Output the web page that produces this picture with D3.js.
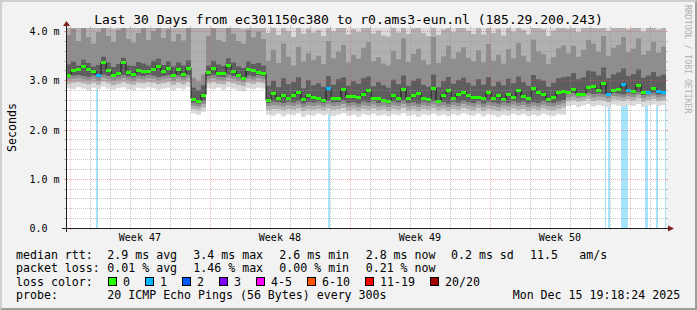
<!DOCTYPE html>
<html><head><meta charset="utf-8">
<script src="https://cdn.jsdelivr.net/npm/d3@7/dist/d3.min.js"></script>
<style>
html,body{margin:0;padding:0;background:#f2f2f2;}
svg{display:block;}
text{font-family:"DejaVu Sans Mono",monospace;fill:#000;}
</style>
</head><body>
<svg id="chart" width="697" height="310"></svg>
<script>
// ---------------- DATA ----------------
const titleText = "Last 30 Days from ec301150c380 to r0.ams3-eun.nl (185.29.200.243)";
const startTime = "2025-11-15T19:18:24Z";
const endTime   = "2025-12-15T19:18:24Z";
const stepHours = 6;            // one sample every 6 hours
const lossSampleMinutes = 72;   // width of one loss sample

// median RTT (ms) per sample
const median = [
3.11,3.20,3.22,3.30,3.23,3.18,3.11,3.38,3.20,3.10,
3.14,3.38,3.16,3.12,3.21,3.18,3.19,3.24,3.30,3.18,
3.26,3.11,3.24,3.13,3.25,2.62,2.57,2.70,3.16,3.25,
3.14,3.15,3.31,3.18,3.11,3.04,3.22,3.20,3.17,3.15,
2.60,2.74,2.64,2.70,2.64,2.70,2.77,2.62,2.70,2.66,
2.64,2.60,2.85,2.65,2.65,2.82,2.68,2.68,2.66,2.72,
2.80,2.65,2.64,2.61,2.58,2.70,2.64,2.82,2.65,2.70,
2.74,2.64,2.62,2.85,2.58,2.70,2.80,2.64,2.72,2.76,
2.70,2.66,2.67,2.64,2.77,2.64,2.70,2.63,2.72,2.66,
2.80,2.69,2.64,2.84,2.76,2.72,2.62,2.66,2.76,2.78,
2.77,2.82,2.72,2.73,2.86,2.88,2.80,2.95,2.72,2.80,
2.82,2.93,2.80,2.79,2.91,2.76,2.77,2.84,2.78,2.77];

// pings lost per sample (colours the median)
const medianLoss = [
0,0,0,0,0,0,1,0,0,0, 0,0,0,0,0,0,0,0,0,0,
0,0,0,0,0,0,0,0,0,0, 0,0,0,0,0,0,0,0,0,0,
0,0,0,0,0,0,0,0,0,0, 0,0,1,0,0,0,0,0,0,0,
0,0,0,0,0,0,0,0,0,0, 0,0,0,0,0,0,0,0,0,0,
0,0,0,0,0,0,0,0,0,0, 0,0,0,0,0,0,0,0,0,0,
0,0,0,0,0,0,0,0,1,0, 0,1,1,0,0,0,1,0,1,1];

// sorted ping RTTs (ms): smoke boundaries
const pingMin = [
2.84,2.82,2.86,2.83,2.80,2.85,2.82,2.87,2.83,2.81,
2.84,2.86,2.82,2.80,2.85,2.83,2.86,2.84,2.81,2.83,
2.85,2.80,2.84,2.82,2.86,2.33,2.30,2.36,2.84,2.82,
2.85,2.81,2.86,2.83,2.80,2.78,2.84,2.82,2.85,2.83,
2.30,2.28,2.32,2.27,2.31,2.29,2.33,2.26,2.30,2.28,
2.32,2.29,2.31,2.27,2.30,2.33,2.28,2.30,2.26,2.31,
2.29,2.32,2.28,2.30,2.27,2.31,2.29,2.33,2.28,2.30,
2.26,2.31,2.29,2.32,2.28,2.30,2.27,2.31,2.29,2.33,
2.30,2.28,2.32,2.27,2.31,2.29,2.26,2.30,2.28,2.32,
2.29,2.31,2.27,2.30,2.28,2.32,2.29,2.27,2.31,2.30,
2.48,2.50,2.46,2.49,2.52,2.47,2.50,2.48,2.45,2.51,
2.49,2.47,2.50,2.48,2.52,2.46,2.49,2.51,2.47,2.50];
const ping3 = [
2.93,2.95,2.96,2.94,2.92,2.95,2.91,2.97,2.94,2.90,
2.93,2.96,2.93,2.91,2.95,2.94,2.96,2.95,2.92,2.94,
2.96,2.91,2.95,2.92,2.96,2.42,2.40,2.45,2.94,2.96,
2.93,2.92,2.97,2.94,2.91,2.88,2.95,2.93,2.96,2.94,
2.40,2.42,2.41,2.39,2.42,2.40,2.43,2.38,2.41,2.40,
2.42,2.39,2.43,2.40,2.41,2.44,2.39,2.41,2.38,2.42,
2.40,2.43,2.39,2.41,2.38,2.42,2.40,2.44,2.39,2.41,
2.38,2.42,2.40,2.43,2.39,2.41,2.38,2.42,2.40,2.44,
2.41,2.39,2.43,2.38,2.42,2.40,2.38,2.41,2.39,2.43,
2.40,2.42,2.38,2.41,2.39,2.43,2.40,2.39,2.42,2.45,
2.58,2.60,2.57,2.59,2.62,2.58,2.60,2.59,2.56,2.61,
2.60,2.58,2.61,2.59,2.63,2.57,2.60,2.62,2.58,2.60];
const ping5 = [
3.01,3.03,3.04,3.02,3.00,3.03,2.99,3.05,3.02,2.99,
3.01,3.04,3.01,2.99,3.03,3.02,3.04,3.03,3.00,3.02,
3.04,2.99,3.03,3.00,3.04,2.49,2.47,2.52,3.02,3.04,
3.01,3.00,3.05,3.02,2.99,2.96,3.03,3.01,3.04,3.02,
2.48,2.50,2.49,2.47,2.50,2.48,2.51,2.46,2.49,2.48,
2.50,2.47,2.51,2.48,2.49,2.52,2.47,2.49,2.46,2.50,
2.48,2.51,2.47,2.49,2.46,2.50,2.48,2.52,2.47,2.49,
2.46,2.50,2.48,2.51,2.47,2.49,2.46,2.50,2.48,2.52,
2.49,2.47,2.51,2.46,2.50,2.48,2.46,2.49,2.47,2.51,
2.48,2.50,2.46,2.49,2.47,2.51,2.48,2.47,2.50,2.53,
2.65,2.67,2.64,2.66,2.69,2.65,2.67,2.66,2.63,2.68,
2.67,2.65,2.68,2.66,2.70,2.64,2.67,2.69,2.65,2.67];
const ping8 = [
3.08,3.10,3.11,3.09,3.07,3.10,3.06,3.12,3.09,3.06,
3.08,3.11,3.08,3.06,3.10,3.09,3.11,3.10,3.07,3.09,
3.11,3.06,3.10,3.07,3.11,2.55,2.53,2.58,3.09,3.11,
3.08,3.07,3.12,3.09,3.06,3.01,3.10,3.08,3.11,3.09,
2.54,2.57,2.56,2.54,2.57,2.55,2.58,2.53,2.56,2.55,
2.57,2.54,2.58,2.55,2.56,2.59,2.54,2.56,2.53,2.57,
2.55,2.58,2.54,2.56,2.53,2.57,2.55,2.59,2.54,2.56,
2.53,2.57,2.55,2.58,2.54,2.56,2.53,2.57,2.55,2.59,
2.56,2.54,2.58,2.53,2.57,2.55,2.53,2.56,2.54,2.58,
2.55,2.57,2.53,2.56,2.54,2.58,2.55,2.54,2.57,2.60,
2.72,2.74,2.70,2.71,2.75,2.72,2.73,2.72,2.69,2.74,
2.73,2.71,2.74,2.72,2.76,2.70,2.72,2.75,2.71,2.73];
const ping13 = [
3.32,3.38,3.30,3.42,3.35,3.28,3.31,3.48,3.36,3.27,
3.33,3.46,3.30,3.29,3.37,3.34,3.30,3.40,3.44,3.31,
3.39,3.28,3.36,3.30,3.41,2.85,2.80,2.90,3.30,3.40,
3.32,3.29,3.45,3.36,3.28,3.25,3.38,3.33,3.35,3.30,
2.89,2.99,2.86,3.04,2.92,2.96,3.06,2.84,3.00,2.90,
2.94,2.87,3.09,2.91,3.02,3.06,2.89,2.98,2.93,3.04,
3.08,2.88,2.96,2.90,2.85,3.01,2.92,3.10,2.89,2.99,
3.03,2.91,2.87,3.12,2.86,2.98,3.07,2.93,3.00,3.05,
2.95,2.89,3.02,2.91,3.06,2.88,2.97,2.90,3.03,2.94,
3.08,2.96,2.89,3.11,3.02,2.99,2.87,2.95,3.04,3.06,
3.08,3.15,3.02,3.06,3.20,3.18,3.10,3.26,3.04,3.12,
3.16,3.24,3.09,3.13,3.22,3.05,3.10,3.17,3.08,3.12];
const ping16 = [
3.92,4.05,3.80,4.10,3.88,3.75,3.98,4.15,3.90,3.78,
4.02,4.12,3.84,3.77,3.96,4.08,3.82,4.00,4.13,3.86,
4.04,3.79,3.94,3.81,4.07,3.05,2.98,3.12,3.90,4.08,
3.82,3.78,4.13,3.95,3.80,3.75,4.02,3.87,3.99,3.84,
3.40,3.62,3.35,3.75,3.48,3.30,3.68,3.38,3.55,3.42,
3.50,3.33,3.80,3.45,3.58,3.72,3.36,3.52,3.44,3.66,
3.78,3.39,3.47,3.34,3.30,3.60,3.43,3.85,3.37,3.54,
3.64,3.41,3.32,3.88,3.35,3.49,3.70,3.44,3.57,3.67,
3.46,3.38,3.61,3.36,3.74,3.40,3.52,3.34,3.63,3.45,
3.76,3.50,3.37,3.83,3.59,3.53,3.33,3.47,3.65,3.71,
3.55,3.70,3.48,3.62,3.82,3.75,3.58,3.90,3.50,3.66,
3.72,3.88,3.57,3.64,3.85,3.52,3.60,3.78,3.56,3.68];
const ping18 = [
4.20,4.40,4.10,4.45,4.15,4.07,4.30,4.55,4.17,4.05,
4.35,4.50,4.13,4.08,4.25,4.43,4.11,4.33,4.53,4.16,
4.37,4.09,4.23,4.12,4.41,4.30,4.20,4.40,4.19,4.39,
4.12,4.08,4.47,4.27,4.10,4.05,4.36,4.15,4.31,4.13,
3.96,4.15,3.92,4.22,4.00,3.88,4.18,3.94,4.05,3.97,
4.02,3.90,4.28,3.99,4.10,4.20,3.93,4.04,3.98,4.16,
4.25,3.95,4.01,3.91,3.89,4.12,3.97,4.30,3.94,4.06,
4.14,3.96,3.90,4.32,3.92,4.03,4.19,3.98,4.08,4.17,
4.00,3.94,4.11,3.93,4.21,3.96,4.05,3.91,4.13,3.99,
4.24,4.02,3.93,4.29,4.09,4.04,3.90,4.01,4.15,4.20,
4.05,4.18,3.98,4.10,4.30,4.22,4.06,4.35,4.00,4.14,
4.20,4.33,4.04,4.12,4.28,3.99,4.08,4.24,4.03,4.15];
const pingMax = [
6.8,7.9,5.6,8.4,6.1,5.3,7.2,9.1,6.5,5.1,
7.6,8.8,5.9,5.4,6.9,8.1,5.7,7.4,8.9,6.2,
7.8,5.5,6.7,5.8,8.0,7.1,6.4,8.6,6.3,7.7,
5.9,5.2,8.3,7.0,5.6,5.0,7.5,6.1,7.3,5.8,
5.7,7.2,5.4,7.8,6.0,5.1,7.5,5.5,6.6,5.8,
6.2,5.3,8.1,5.9,6.8,7.6,5.4,6.3,5.7,7.3,
7.9,5.6,6.1,5.2,5.0,7.0,5.8,8.4,5.5,6.5,
7.1,5.7,5.3,8.6,5.4,6.2,7.4,5.9,6.7,7.2,
6.0,5.5,6.9,5.4,7.7,5.7,6.3,5.2,7.0,5.9,
8.0,6.1,5.4,8.3,6.8,6.4,5.1,6.0,7.1,7.5,
6.2,7.3,5.8,6.7,8.5,7.6,6.3,8.9,5.9,6.9,
7.4,8.7,6.1,6.8,8.2,5.7,6.4,7.8,6.0,7.0];

// samples (72 min each) with packet loss -> light loss background
const lossSampleTimes = [
"2025-11-17T07:18:24Z","2025-11-17T08:30:24Z",
"2025-11-28T21:42:24Z","2025-11-28T22:54:24Z",
"2025-12-12T18:06:24Z","2025-12-12T21:42:24Z","2025-12-12T22:54:24Z",
"2025-12-13T13:18:24Z","2025-12-13T14:30:24Z","2025-12-13T15:42:24Z","2025-12-13T16:54:24Z",
"2025-12-13T18:06:24Z","2025-12-13T19:18:24Z","2025-12-13T20:30:24Z",
"2025-12-14T18:06:24Z","2025-12-14T19:18:24Z","2025-12-14T20:30:24Z",
"2025-12-15T07:18:24Z","2025-12-15T08:30:24Z",
"2025-12-15T18:06:24Z"];

const yTicks = [0, 1, 2, 3, 4];
const rttLabel = "median rtt:";
const rttStats = ["2.9 ms avg","3.4 ms max","2.6 ms min","2.8 ms now","0.2 ms sd","11.5","am/s"];
const lossLabel = "packet loss:";
const lossStats = ["0.01 % avg","1.46 % max","0.00 % min","0.21 % now"];
const lossColorLabel = "loss color:";
const lossBuckets = ["0","1","2","3","4-5","6-10","11-19","20/20"];
const probeLabel = "probe:";
const probeText = "20 ICMP Echo Pings (56 Bytes) every 300s";
const stampText = "Mon Dec 15 19:18:24 2025";

// ---------------- STYLE / LAYOUT ----------------
const W = 697, H = 310;
const X0 = 66, X1 = 666, Y0 = 228, Y1 = 28;
const lossColors = ["#26ff00","#00b8ff","#0059ff","#7e00ff","#ff00ff","#ff5500","#ff0000","#a00000"];

const svg = d3.select("#chart");

// background and 3d border
svg.append("rect").attr("x",0).attr("y",0).attr("width",W).attr("height",H).attr("fill","#f2f2f2");
svg.append("polygon").attr("points",`0,${H} 2,${H-2} 2,2 ${W-2},2 ${W},0 0,0`).attr("fill","#cfcfcf");
svg.append("polygon").attr("points",`2,${H-2} ${W-2},${H-2} ${W-2},2 ${W},0 ${W},${H} 0,${H}`).attr("fill","#9e9e9e");

// scales
const t0 = new Date(startTime), t1 = new Date(endTime);
const x = d3.scaleUtc().domain([t0, t1]).range([X0, X1]);
const y = d3.scaleLinear().domain([0, 4.063]).range([Y0, Y1]);
const px = v => Math.round(v) + 0.5;

// canvas
svg.append("rect").attr("x",X0).attr("y",Y1).attr("width",X1-X0).attr("height",Y0-Y1).attr("fill","#ffffff");
const defs = svg.append("defs");
defs.append("clipPath").attr("id","cv").append("rect")
  .attr("x",X0+1).attr("y",Y1).attr("width",X1-X0-1).attr("height",Y0-Y1);
const plot = svg.append("g").attr("clip-path","url(#cv)");

// sample times
const n = median.length;
const times = d3.range(n + 1).map(i => d3.utcHour.offset(t0, stepHours * i));

// loss background bars
plot.selectAll("rect.lossbg").data(lossSampleTimes).join("rect")
  .attr("class","lossbg")
  .attr("x", d => x(new Date(d)))
  .attr("width", d => x(d3.utcMinute.offset(new Date(d), lossSampleMinutes)) - x(new Date(d)))
  .attr("y", y(y.domain()[1]))
  .attr("height", y(0) - y(y.domain()[1]))
  .attr("fill", "#a6e4fb");

// smoke bands
const bands = [
  [pingMin, pingMax, "#dadada"],
  [ping3, ping18, "#b0b0b0"],
  [ping5, ping16, "#8e8e8e"],
  [ping8, ping13, "#5e5e5e"]
];
const area = d3.area().curve(d3.curveStepAfter)
  .x(d => x(d.t)).y0(d => y(d.lo)).y1(d => y(d.hi));
bands.forEach(([lo, hi, col]) => {
  const pts = d3.range(n).map(i => ({t: times[i], lo: lo[i], hi: hi[i]}));
  pts.push({t: times[n], lo: lo[n-1], hi: hi[n-1]});
  plot.append("path").attr("d", area(pts)).attr("fill", col);
});

// grid (drawn over data, like rrdtool)
const grid = svg.append("g");
const yMinor = d3.range(1, 21).map(k => k / 5).filter(v => v <= y.domain()[1] && Math.abs(v - Math.round(v)) > 1e-9);
const yMajor = yTicks.filter(v => v > 0);
function hLine(v, col, op) {
  const yy = px(y(v));
  grid.append("line").attr("x1",X0+1).attr("x2",X1).attr("y1",yy).attr("y2",yy)
    .attr("stroke",col).attr("stroke-opacity",op).attr("stroke-dasharray","1,1");
  grid.append("line").attr("x1",X0-2).attr("x2",X0).attr("y1",yy).attr("y2",yy)
    .attr("stroke",col).attr("stroke-opacity",op);
  grid.append("line").attr("x1",X1).attr("x2",X1+2).attr("y1",yy).attr("y2",yy)
    .attr("stroke",col).attr("stroke-opacity",op);
}
function vLine(t, col, op) {
  const xx = px(x(t));
  grid.append("line").attr("x1",xx).attr("x2",xx).attr("y1",Y1).attr("y2",Y0)
    .attr("stroke",col).attr("stroke-opacity",op).attr("stroke-dasharray","1,1");
  grid.append("line").attr("x1",xx).attr("x2",xx).attr("y1",Y1-2).attr("y2",Y1)
    .attr("stroke",col).attr("stroke-opacity",op);
  grid.append("line").attr("x1",xx).attr("x2",xx).attr("y1",Y0).attr("y2",Y0+2)
    .attr("stroke",col).attr("stroke-opacity",op);
}
const days = d3.utcDay.range(t0, t1);
const weeks = d3.utcSunday.range(t0, t1);
const weekSet = new Set(weeks.map(d => +d));
days.filter(d => !weekSet.has(+d)).forEach(d => vLine(d, "#8f8f8f", 0.5));
yMinor.forEach(v => hLine(v, "#8f8f8f", 0.5));
weeks.forEach(d => vLine(d, "#de4f4f", 0.4));
yMajor.forEach(v => hLine(v, "#de4f4f", 0.45));

// median: dark step connectors and loss-coloured ticks
const medPts = d3.range(n).map(i => ({t: times[i], v: median[i]}));
medPts.push({t: times[n], v: median[n-1]});
plot.append("path")
  .attr("d", d3.line().curve(d3.curveStepAfter).x(d => x(d.t)).y(d => Math.round(y(d.v)))(medPts))
  .attr("fill","none").attr("stroke","#161616").attr("stroke-width",1);
plot.selectAll("rect.med").data(d3.range(n)).join("rect")
  .attr("class","med")
  .attr("x", i => x(times[i]))
  .attr("width", i => x(times[i+1]) - x(times[i]))
  .attr("y", i => Math.round(y(median[i])) - 1)
  .attr("height", 3)
  .attr("fill", i => lossColors[Math.min(medianLoss[i], 7)]);

// axes
const axis = svg.append("g");
axis.append("line").attr("x1",X0-4).attr("x2",X1+4).attr("y1",Y0+0.5).attr("y2",Y0+0.5).attr("stroke","#1f1f1f");
axis.append("line").attr("x1",X0+0.5).attr("x2",X0+0.5).attr("y1",Y0+4).attr("y2",Y1-4).attr("stroke","#1f1f1f");
axis.append("polygon").attr("points",`${X0-3},${Y1-2} ${X0+4},${Y1-2} ${X0+0.5},${Y1-7}`).attr("fill","#801f1f");
axis.append("polygon").attr("points",`${X1+2},${Y0-2.5} ${X1+2},${Y0+3.5} ${X1+8},${Y0+0.5}`).attr("fill","#801f1f");

// y labels
svg.selectAll("text.ylab").data(yTicks).join("text")
  .attr("class","ylab")
  .attr("x", 29.5)
  .attr("y", v => px(y(v)) + 3.8)
  .attr("font-size","10px")
  .text(v => v === 0 ? "0.0" : v.toFixed(1) + " m");

// x labels: week label centred on each week
const weekMids = d3.utcSunday.range(d3.utcDay.offset(t0, -7), t1)
  .map(d => d3.utcHour.offset(d, 84))
  .filter(d => x(d) > X0 + 20 && x(d) < X1 - 20);
svg.selectAll("text.xlab").data(weekMids).join("text")
  .attr("class","xlab")
  .attr("x", d => x(d))
  .attr("y", 241)
  .attr("text-anchor","middle")
  .attr("font-size","10px")
  .text(d => d3.utcFormat("Week %V")(d));

// title
svg.append("text").attr("x",348.5).attr("y",24).attr("text-anchor","middle")
  .attr("font-size","13px").text(titleText);

// vertical label
svg.append("text").attr("transform","translate(15.5,127.5) rotate(-90)")
  .attr("text-anchor","middle").attr("font-size","11.6px").text("Seconds");

// watermark
svg.append("text").attr("transform","translate(685,5) rotate(90)")
  .attr("font-size","8.2px").style("fill","#b0b0b0").text("RRDTOOL / TOBI OETIKER");

// legend
const LF = "11.6px";
const rowY = [258.5, 272, 285.7, 299.3];
const colX = [107.3, 193.3, 279.3, 365.7, 451, 530, 579.3];
const leg = svg.append("g").attr("font-size", LF);
leg.append("text").attr("x",16).attr("y",rowY[0]).text(rttLabel);
rttStats.forEach((s,i) => leg.append("text").attr("x",colX[i]).attr("y",rowY[0]).text(s));
leg.append("text").attr("x",16).attr("y",rowY[1]).text(lossLabel);
lossStats.forEach((s,i) => leg.append("text").attr("x",colX[i]).attr("y",rowY[1]).text(s));
leg.append("text").attr("x",16).attr("y",rowY[2]).text(lossColorLabel);
const boxX = [108.5, 145.5, 182.5, 219.5, 256.5, 307.5, 365.5, 430.5];
lossBuckets.forEach((s,i) => {
  leg.append("rect").attr("x",boxX[i]).attr("y",rowY[2]-8.2).attr("width",8).attr("height",8)
    .attr("fill",lossColors[i]).attr("stroke","#000").attr("stroke-width",1);
  leg.append("text").attr("x",boxX[i]+14.5).attr("y",rowY[2]).text(s);
});
leg.append("text").attr("x",16).attr("y",rowY[3]).text(probeLabel);
leg.append("text").attr("x",107.3).attr("y",rowY[3]).text(probeText);
leg.append("text").attr("x",512.7).attr("y",rowY[3]).text(stampText);
</script>
</body></html>
